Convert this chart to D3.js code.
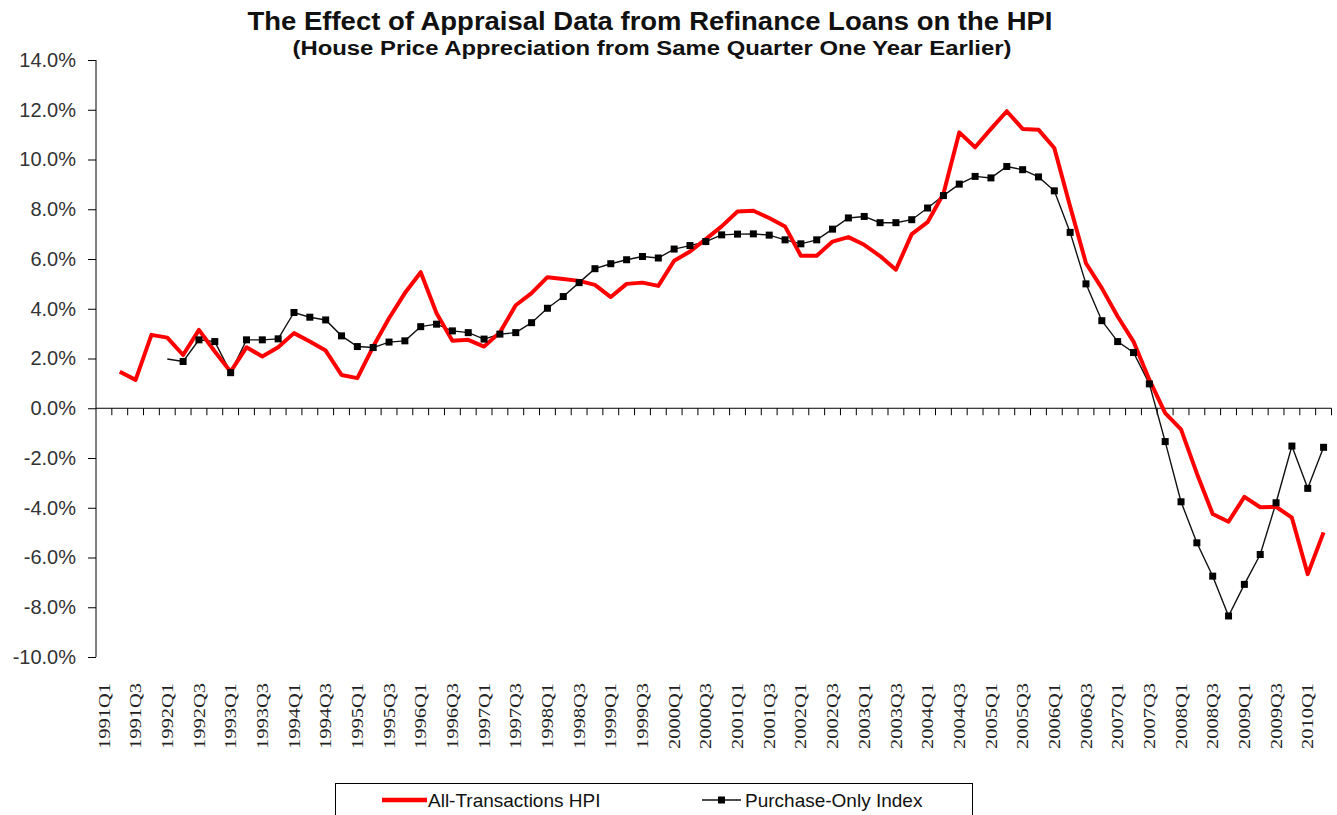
<!DOCTYPE html>
<html>
<head>
<meta charset="utf-8">
<script src="https://cdn.jsdelivr.net/npm/d3@7"></script>
<style>
  body { margin: 0; background: #fff; }
  svg { display: block; }
</style>
</head>
<body>
<div id="chart"></div>
<script>
// quarters 1991Q1 .. 2010Q2
const quarters = [];
for (let yr = 1991; yr <= 2010; yr++) {
  for (let q = 1; q <= 4; q++) {
    if (yr === 2010 && q > 2) break;
    quarters.push(yr + "Q" + q);
  }
}

// All-Transactions HPI, % change from same quarter one year earlier
const allTransactions = [
  null, 1.47, 1.14, 2.95, 2.84, 2.14, 3.15, 2.28,
  1.47, 2.45, 2.08, 2.45, 3.02, 2.68, 2.32, 1.34,
  1.21, 2.48, 3.62, 4.63, 5.47, 3.82, 2.71, 2.75,
  2.48, 3.05, 4.14, 4.63, 5.27, 5.20, 5.12, 4.96,
  4.47, 5.00, 5.05, 4.92, 5.93, 6.30, 6.80, 7.31,
  7.91, 7.94, 7.65, 7.31, 6.13, 6.13, 6.70, 6.88,
  6.57, 6.12, 5.57, 7.00, 7.48, 8.62, 11.09, 10.49,
  11.23, 11.94, 11.23, 11.20, 10.46, 8.11, 5.83, 4.83,
  3.69, 2.68, 1.15, -0.20, -0.85, -2.62, -4.25, -4.56,
  -3.56, -3.98, -3.96, -4.40, -6.67, -4.99
];

// Purchase-Only Index
const purchaseOnly = [
  null, null, null, null, 1.98, 1.88, 2.75, 2.68,
  1.43, 2.75, 2.75, 2.79, 3.85, 3.66, 3.55, 2.91,
  2.48, 2.44, 2.66, 2.71, 3.28, 3.38, 3.11, 3.04,
  2.78, 2.98, 3.04, 3.44, 4.02, 4.49, 5.05, 5.61,
  5.81, 5.97, 6.10, 6.04, 6.40, 6.54, 6.70, 6.97,
  7.00, 7.01, 6.96, 6.77, 6.61, 6.77, 7.20, 7.65,
  7.71, 7.46, 7.46, 7.58, 8.05, 8.55, 9.01, 9.32,
  9.26, 9.72, 9.59, 9.30, 8.74, 7.07, 5.00, 3.52,
  2.68, 2.24, 0.98, -1.34, -3.76, -5.41, -6.75, -8.35,
  -7.08, -5.88, -3.80, -1.52, -3.22, -1.57
];

const yTicks = [-10, -8, -6, -4, -2, 0, 2, 4, 6, 8, 10, 12, 14];
const xTickLabels = quarters.filter((q) => q.endsWith("Q1") || q.endsWith("Q3"));

const width = 1337;
const height = 815;
const sans = "'Liberation Sans', Arial, sans-serif";
const serif = "'Liberation Serif', 'Times New Roman', serif";

const svg = d3
  .select("#chart")
  .append("svg")
  .attr("width", width)
  .attr("height", height);

const x = d3.scaleBand().domain(quarters).range([96, 1331.5]).padding(0);
const y = d3.scaleLinear().domain([-10, 14]).range([657, 60]);
const cx = (q) => x(q) + x.bandwidth() / 2;

// titles (text in the original is a bit stretched, so fix its length)
svg
  .append("text")
  .attr("x", 650)
  .attr("y", 30)
  .attr("text-anchor", "middle")
  .attr("font-family", sans)
  .attr("font-weight", 700)
  .attr("font-size", 25)
  .attr("textLength", 805)
  .attr("lengthAdjust", "spacingAndGlyphs")
  .attr("fill", "#111")
  .text("The Effect of Appraisal Data from Refinance Loans on the HPI");

svg
  .append("text")
  .attr("x", 652)
  .attr("y", 55)
  .attr("text-anchor", "middle")
  .attr("font-family", sans)
  .attr("font-weight", 700)
  .attr("font-size", 19.5)
  .attr("textLength", 719)
  .attr("lengthAdjust", "spacingAndGlyphs")
  .attr("fill", "#111")
  .text("(House Price Appreciation from Same Quarter One Year Earlier)");

// y axis
const yAxis = svg
  .append("g")
  .attr("transform", "translate(96,0)")
  .call(
    d3
      .axisLeft(y)
      .tickValues(yTicks)
      .tickSize(8)
      .tickPadding(12)
      .tickFormat((d) => d.toFixed(1) + "%")
  );
yAxis.select(".domain").attr("stroke", "#000").attr("d", "M0,60V657");
yAxis.selectAll(".tick line").attr("stroke", "#000");
yAxis
  .selectAll(".tick text")
  .attr("font-family", sans)
  .attr("font-size", 20)
  .attr("fill", "#333");

// x axis on the zero line, ticks between categories
const zeroY = y(0);
svg
  .append("line")
  .attr("x1", 96)
  .attr("x2", 1331.5)
  .attr("y1", zeroY)
  .attr("y2", zeroY)
  .attr("stroke", "#000")
  .attr("stroke-width", 1);

svg
  .selectAll("line.xtick")
  .data(quarters)
  .join("line")
  .attr("class", "xtick")
  .attr("x1", (d) => x(d) + x.bandwidth())
  .attr("x2", (d) => x(d) + x.bandwidth())
  .attr("y1", zeroY)
  .attr("y2", zeroY + 7)
  .attr("stroke", "#000");

svg
  .selectAll("text.xlabel")
  .data(xTickLabels)
  .join("text")
  .attr("class", "xlabel")
  .attr("transform", (d) => `translate(${cx(d)},683) rotate(-90)`)
  .attr("text-anchor", "end")
  .attr("dy", "0.35em")
  .attr("font-family", serif)
  .attr("font-size", 16)
  .attr("textLength", 66)
  .attr("lengthAdjust", "spacingAndGlyphs")
  .attr("fill", "#222")
  .text((d) => d);

// lines
const line = d3
  .line()
  .defined((d) => d.v !== null)
  .x((d) => cx(d.q))
  .y((d) => y(d.v));

const redData = quarters.map((q, i) => ({ q, v: allTransactions[i] }));
const blackData = quarters.map((q, i) => ({ q, v: purchaseOnly[i] }));

svg
  .append("path")
  .datum(blackData)
  .attr("fill", "none")
  .attr("stroke", "#111")
  .attr("stroke-width", 1.4)
  .attr("d", line);

// first purchase-only point is drawn without a marker in the original
const firstBlack = purchaseOnly.findIndex((v) => v !== null);
svg
  .selectAll("rect.marker")
  .data(blackData.filter((d, i) => d.v !== null && i > firstBlack))
  .join("rect")
  .attr("class", "marker")
  .attr("x", (d) => cx(d.q) - 3.5)
  .attr("y", (d) => y(d.v) - 3.5)
  .attr("width", 7)
  .attr("height", 7)
  .attr("fill", "#000");

svg
  .append("path")
  .datum(redData)
  .attr("fill", "none")
  .attr("stroke", "#f00")
  .attr("stroke-width", 4)
  .attr("stroke-linejoin", "round")
  .attr("d", line);

// markers sit on top of the red line where they cross
svg.selectAll("rect.marker").raise();

// legend
const legend = svg.append("g");
legend
  .append("rect")
  .attr("x", 335.5)
  .attr("y", 783.5)
  .attr("width", 637)
  .attr("height", 40)
  .attr("fill", "#fff")
  .attr("stroke", "#000")
  .attr("stroke-width", 1);

legend
  .append("line")
  .attr("x1", 382)
  .attr("x2", 427)
  .attr("y1", 800)
  .attr("y2", 800)
  .attr("stroke", "#f00")
  .attr("stroke-width", 4.5);

legend
  .append("text")
  .attr("x", 428)
  .attr("y", 807)
  .attr("font-family", sans)
  .attr("font-size", 19)
  .attr("fill", "#111")
  .text("All-Transactions HPI");

legend
  .append("line")
  .attr("x1", 702)
  .attr("x2", 741)
  .attr("y1", 800)
  .attr("y2", 800)
  .attr("stroke", "#111")
  .attr("stroke-width", 1.4);

legend
  .append("rect")
  .attr("x", 718)
  .attr("y", 796.5)
  .attr("width", 7)
  .attr("height", 7)
  .attr("fill", "#000");

legend
  .append("text")
  .attr("x", 745)
  .attr("y", 807)
  .attr("font-family", sans)
  .attr("font-size", 19)
  .attr("fill", "#111")
  .text("Purchase-Only Index");
</script>
</body>
</html>
